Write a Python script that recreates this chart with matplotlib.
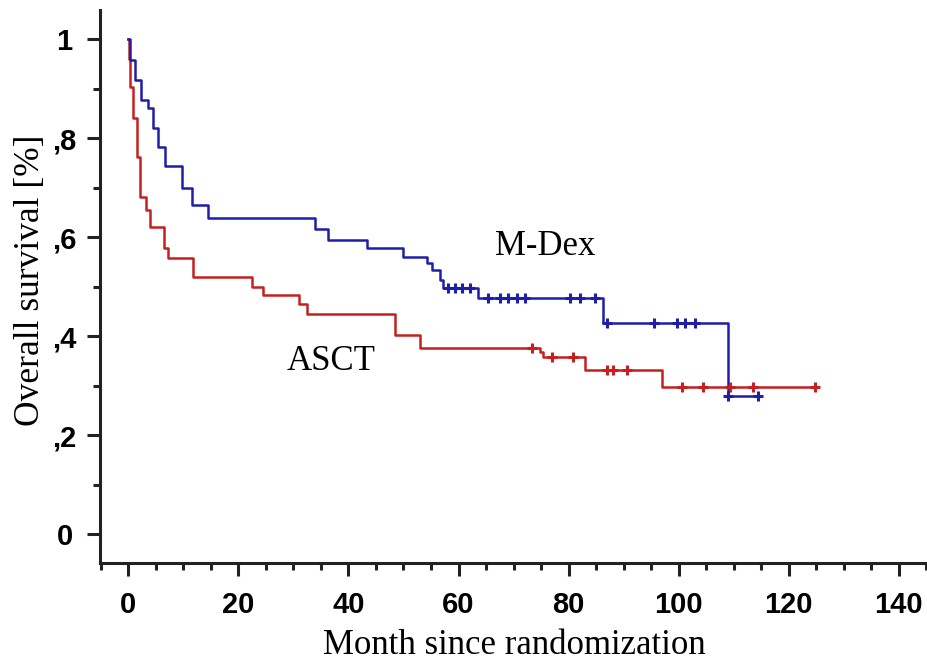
import matplotlib
import numpy as np
import matplotlib.pyplot as plt
from matplotlib.ticker import FuncFormatter, MultipleLocator

matplotlib.use("Agg")

# M-Dex: event times (months) and survival after each event
mdex_times = [0.3, 1.2, 2.4, 3.6, 4.5, 5.4, 6.7, 9.7, 11.5, 14.5, 34.0, 36.3,
              43.4, 49.9, 54.3, 55.1, 56.6, 57.1, 63.5, 86.2, 108.9]
mdex_surv = [0.958, 0.918, 0.877, 0.861, 0.821, 0.783, 0.743, 0.699, 0.665,
             0.639, 0.617, 0.595, 0.578, 0.560, 0.548, 0.534, 0.514, 0.498,
             0.477, 0.427, 0.280]
mdex_censored = [58.1, 59.3, 60.6, 62.1, 65.3, 67.5, 68.9, 70.6, 72.1, 80.2,
                 82.0, 84.8, 86.9, 95.6, 99.7, 101.1, 102.9, 109.0, 114.4]
mdex_end = 114.4

# ASCT
asct_times = [0.1, 0.4, 0.9, 1.5, 2.1, 3.3, 3.9, 6.4, 7.3, 11.8, 22.4, 24.5,
              31.0, 32.4, 48.4, 53.0, 74.8, 75.3, 83.0, 96.9]
asct_surv = [0.96, 0.904, 0.840, 0.763, 0.682, 0.655, 0.621, 0.578, 0.558,
             0.520, 0.500, 0.483, 0.465, 0.445, 0.403, 0.377, 0.368, 0.358,
             0.332, 0.297]
asct_censored = [73.3, 77.0, 80.8, 86.9, 88.0, 90.6, 100.6, 104.4, 109.3,
                 113.5, 124.7]
asct_end = 124.7

x_ticks = [0, 20, 40, 60, 80, 100, 120, 140]
y_ticks = [0, 0.2, 0.4, 0.6, 0.8, 1.0]

BLUE = "#1e1ea8"
RED = "#c42020"
SERIF = "Liberation Serif"


def _km_curve(ax, times, surv, censored, end, color):
    t = np.concatenate([[0.0], times, [end]])
    s = np.concatenate([[1.0], surv, [surv[-1]]])
    ax.step(t, s, where="post", color=color, linewidth=1.8, zorder=3)
    idx = np.searchsorted(t, censored, side="right") - 1
    ax.plot(censored, s[idx], linestyle="none", marker="+", markersize=7,
            markeredgewidth=2.2, color=color, zorder=4)


def _fmt_y(v, _pos):
    if abs(v) < 1e-9:
        return "0"
    if abs(v - 1) < 1e-9:
        return "1"
    return f"{v:.1f}".replace("0.", ",")


fig = plt.figure(figsize=(9.28, 6.62), dpi=100)
ax = fig.add_axes([100 / 928, 1 - 563 / 662, 828 / 928, 553 / 662])

_km_curve(ax, asct_times, asct_surv, asct_censored, asct_end, RED)
_km_curve(ax, mdex_times, mdex_surv, mdex_censored, mdex_end, BLUE)

ax.set_xlim(-5.14, 145.3)
ax.set_ylim(-0.058, 1.059)
ax.spines["top"].set_visible(False)
ax.spines["right"].set_visible(False)
for sp in ("left", "bottom"):
    ax.spines[sp].set_linewidth(2.2)
    ax.spines[sp].set_color("#222222")

ax.set_xticks(x_ticks)
ax.xaxis.set_minor_locator(MultipleLocator(5))
ax.set_yticks(y_ticks)
ax.yaxis.set_minor_locator(MultipleLocator(0.1))
ax.yaxis.set_major_formatter(FuncFormatter(_fmt_y))
ax.tick_params(which="major", length=9.5, width=2.2, color="#222222")
ax.tick_params(which="minor", length=5, width=2.2, color="#222222")
ax.tick_params(axis="x", which="major", pad=11)
ax.tick_params(axis="y", which="major", pad=16)
for lab in ax.get_xticklabels() + ax.get_yticklabels():
    lab.set_fontfamily("Liberation Sans")
    lab.set_fontweight("bold")
    lab.set_fontsize(21)
for lab in ax.get_yticklabels():
    lab.set_horizontalalignment("center")

ax.set_xlabel("Month since randomization", fontfamily=SERIF, fontsize=25)
ax.xaxis.label.set_verticalalignment("center")
ax.xaxis.set_label_coords(0.5, (563 - 645) / 553)
ax.set_ylabel("Overall survival [%]", fontfamily=SERIF, fontsize=25.5)
ax.yaxis.label.set_verticalalignment("center")
ax.yaxis.set_label_coords((31 - 100) / 828, (563 - 280) / 553)

ax.text(75.7, 0.564, "M-Dex", fontfamily=SERIF, fontsize=25,
        ha="center", va="baseline")
ax.text(36.8, 0.332, "ASCT", fontfamily=SERIF, fontsize=25,
        ha="center", va="baseline")

fig.savefig("out.png", dpi=100)
